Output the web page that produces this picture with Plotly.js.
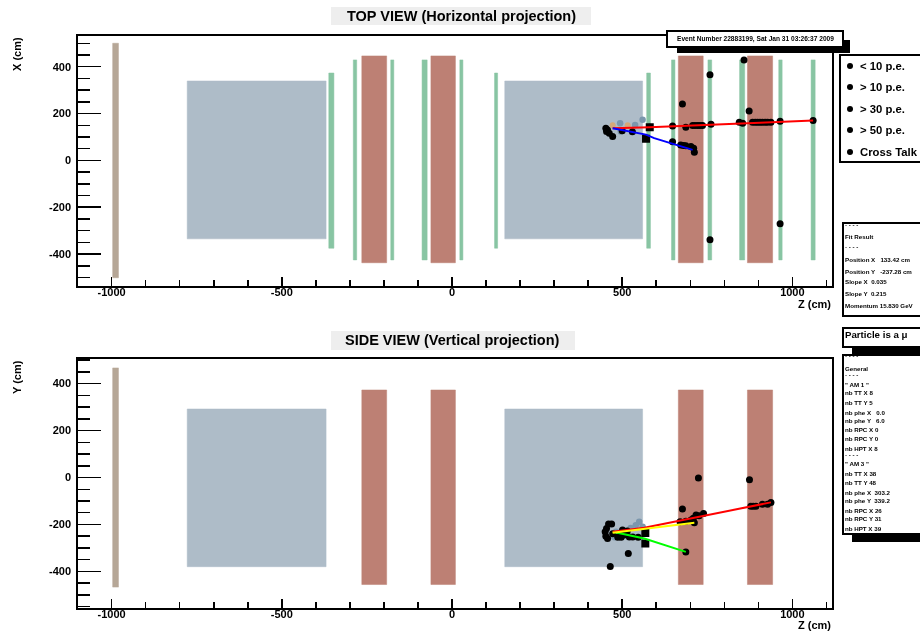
<!DOCTYPE html>
<html><head><meta charset="utf-8">
<script src="https://cdn.plot.ly/plotly-3.0.1.min.js"></script>
<style>html,body{margin:0;padding:0;background:#fff}#c{width:920px;height:631px;filter:blur(0.4px)}</style></head>
<body><div id="c"></div>
<script>
// Detector elements: [z min, z max, transverse min, transverse max] in cm
const veto = [[-997,-980]];
const vetoTopX = [-501,500], vetoSideY = [-467,467];
const magnetsZ = [[-778,-370],[155,560]];
const magnetTopX = [-335,339], magnetSideY = [-380,292];
const rpcZ = [[-265,-192],[-62,10],[665,738],[868,942]];
const rpcTopX = [-437,446], rpcSideY = [-456,373];
const ttTop = [[-362,-347,-375,373],[-290,-280,-425,429],[-180,-171,-425,429],[-88,-73,-425,429],[23,32,-425,429],
  [125,134,-375,373],[572,583,-375,373],[645,655,-425,429],[752,763,-425,429],[845,860,-425,429],[960,970,-425,429],[1055,1067,-425,429]];

// Top view hits
const topZ = [858,758,677,873,964,758,581,648,687,707,714,722,729,736,761,844,854,883,891,898,905,912,920,927,937,964,1061,
  648,672,680,687,702,710,712,452,454,462,472,457,500,530];
const topX = [429,366,241,211,-270,-339,141,147,141,149,149,149,149,149,154,163,159,163,163,163,163,163,163,163,163,167,170,
  80,66,64,62,59,52,35,137,123,116,102,130,127,122];
const topFaintZ = [494,496,538,560];
const topFaintX = [159,123,151,173];
const topOrangeZ = [472,516];
const topOrangeX = [150,150];
const topSqZ = [570,581], topSqX = [92,141];
const topRedZ = [472,581,1061], topRedX = [137,141,170];
const topBlueZ = [472,570,594,707], topBlueX = [137,110,95,45];

// Side view hits
const sideZ = [724,874,677,687,518,465,670,687,702,709,717,726,739,712,878,885,893,912,927,937,
  454,450,452,460,469,457,487,497,506,521,531,547,501,472,515];
const sideY = [-2,-9,-134,-317,-324,-379,-189,-186,-181,-174,-160,-163,-153,-193,-122,-122,-122,-114,-114,-106,
  -217,-231,-250,-198,-198,-260,-255,-255,-245,-253,-253,-255,-224,-240,-228];
const sideFaintZ = [550,540,560,482,477,525];
const sideFaintY = [-189,-203,-210,-231,-255,-215];
const sideSqZ = [568,568], sideSqY = [-236,-281];
const sideRedZ = [472,565,937], sideRedY = [-231,-214,-106];
const sideYellowZ = [472,712], sideYellowY = [-235,-193];
const sideGreenZ = [472,565,687], sideGreenY = [-231,-260,-317];

// Text content
const legendLabels = ['< 10 p.e.','> 10 p.e.','> 30 p.e.','> 50 p.e.','Cross Talk'];
const eventText = 'Event Number 22883199, Sat Jan 31 03:26:37 2009';
const fitLines = ['- - - -','Fit Result','- - - -','Position X   133.42 cm','Position Y   -237.28 cm','Slope X  0.035','Slope Y  0.215','Momentum 15.830 GeV'];
const particleText = 'Particle is a \u03bc';
const generalLines = ['- - - -','General','- - - -','" AM 1 "','nb TT X 8','nb TT Y 5','nb phe X   0.0','nb phe Y   6.0','nb RPC X 0','nb RPC Y 0','nb HPT X 8','- - - -','" AM 3 "','nb TT X 38','nb TT Y 48','nb phe X  303.2','nb phe Y  339.2','nb RPC X 26','nb RPC Y 31','nb HPT X 39'];
const yTicks = [-400,-200,0,200,400];
const yTickText = ['-400','-200','0','200','400'];
const xTicks = [-1000,-500,0,500,1000];
const xTickText = ['-1000','-500','0','500','1000'];

// Pixel helpers for the page furniture
const W=920,H=631, FONT='"Liberation Sans", Arial, sans-serif';
const px=x=>x/W, py=y=>1-y/H;
function boxes(list,t0,t1){const xs=[],ys=[];
  list.forEach(r=>{const a=r.length>2?r[2]:t0,b=r.length>2?r[3]:t1;
    xs.push(r[0],r[1],r[1],r[0],r[0],null);ys.push(a,a,b,b,a,null);});return [xs,ys];}
function fillTrace(list,t0,t1,color,ax){const [x,y]=boxes(list,t0,t1);
  return {x,y,mode:'lines',fill:'toself',fillcolor:color,line:{color:color,width:0.5},hoverinfo:'skip',showlegend:false,xaxis:ax[0],yaxis:ax[1]};}
function pts(x,y,color,size,symbol,ax){return {x,y,mode:'markers',marker:{color,size,symbol:symbol||'circle'},showlegend:false,xaxis:ax[0],yaxis:ax[1]};}
function line(x,y,color,ax){return {x,y,mode:'lines',line:{color,width:2},showlegend:false,xaxis:ax[0],yaxis:ax[1]};}

const A1=['x','y'],A2=['x2','y2'];
const BLUE='#aebcc8',RED='#bd8074',GREEN='#88c5a3',TAN='#b6a797';
const data=[
 fillTrace(veto,vetoTopX[0],vetoTopX[1],TAN,A1),
 fillTrace(magnetsZ,magnetTopX[0],magnetTopX[1],BLUE,A1),
 fillTrace(rpcZ,rpcTopX[0],rpcTopX[1],RED,A1),
 fillTrace(ttTop,0,0,GREEN,A1),
 pts(topFaintZ,topFaintX,'#7c97ad',6.5,'circle',A1),
 pts(topOrangeZ,topOrangeX,'#d6a878',6,'circle',A1),
 pts(topZ,topX,'#000',7,'circle',A1),
 pts(topSqZ,topSqX,'#000',8,'square',A1),
 line(topRedZ,topRedX,'#ff0000',A1),
 line(topBlueZ,topBlueX,'#0000ff',A1),
 fillTrace(veto,vetoSideY[0],vetoSideY[1],TAN,A2),
 fillTrace(magnetsZ,magnetSideY[0],magnetSideY[1],BLUE,A2),
 fillTrace(rpcZ,rpcSideY[0],rpcSideY[1],RED,A2),
 pts(sideFaintZ,sideFaintY,'#7c97ad',6.5,'circle',A2),
 pts(sideZ,sideY,'#000',7,'circle',A2),
 pts(sideSqZ,sideSqY,'#000',8,'square',A2),
 line(sideGreenZ,sideGreenY,'#00ff00',A2),
 line(sideRedZ,sideRedY,'#ff0000',A2),
 line(sideYellowZ,sideYellowY,'#ffff00',A2)
];

function xax(anchor,dom){return {domain:dom,anchor,range:[-1098,1115],tickmode:'array',tickvals:xTicks,ticktext:xTickText,ticks:'inside',ticklen:9,tickwidth:1.5,tickcolor:'#000',
  minor:{dtick:100,ticks:'inside',ticklen:6,tickwidth:1.5,tickcolor:'#000',showgrid:false},showgrid:false,zeroline:false,showline:true,mirror:true,linecolor:'#000',linewidth:2,
  tickfont:{family:FONT,size:11,color:'#000',weight:'bold'},ticklabelstandoff:-5};}
function yax(anchor,dom,r){return {domain:dom,anchor,range:r,tickmode:'array',tickvals:yTicks,ticktext:yTickText,ticks:'inside',ticklen:23,tickwidth:1.5,tickcolor:'#000',
  minor:{dtick:50,ticks:'inside',ticklen:12,tickwidth:1.5,tickcolor:'#000',showgrid:false},showgrid:false,zeroline:false,showline:true,mirror:true,linecolor:'#000',linewidth:2,
  tickfont:{family:FONT,size:11,color:'#000',weight:'bold'},ticklabelstandoff:3};}

const shapes=[],ann=[];
function rect(x0,y0,x1,y1,fill,lw){shapes.push({type:'rect',xref:'paper',yref:'paper',x0:px(x0),x1:px(x1),y0:py(y1),y1:py(y0),fillcolor:fill,line:{color:'#000',width:lw===undefined?2:lw},layer:'above'});}
function txt(x,y,s,size,bold,anchor,extra){ann.push(Object.assign({xref:'paper',yref:'paper',x:px(x),y:py(y),text:s,showarrow:false,xanchor:anchor||'left',yanchor:'middle',borderpad:0,borderwidth:0,
  font:{family:FONT,size,color:'#000',weight:bold?'bold':'normal'}},extra||{}));}

// Titles
shapes.push({type:'rect',xref:'paper',yref:'paper',x0:px(331),x1:px(591),y0:py(25),y1:py(7),fillcolor:'#eeeeee',line:{width:0},layer:'below'});
shapes.push({type:'rect',xref:'paper',yref:'paper',x0:px(331),x1:px(575),y0:py(350),y1:py(331),fillcolor:'#eeeeee',line:{width:0},layer:'below'});
txt(461,16,'TOP VIEW (Horizontal projection)',14.5,true,'center');
txt(452,340,'SIDE VIEW (Vertical projection)',14.5,true,'center');
txt(831,304,'Z (cm)',11,true,'right');
txt(831,625,'Z (cm)',11,true,'right');
txt(17,54,'X (cm)',11,true,'center',{textangle:-90});
txt(17,377,'Y (cm)',11,true,'center',{textangle:-90});

// Event box
rect(677,40,850,53,'#000',0);
rect(667,31,843,47,'#fff',2);
txt(755,39,eventText,6.6,true,'center');

// Legend box
rect(840,55,925,162,'#fff',2);
const legendY=[66,87,109,130,152];
legendLabels.forEach((s,i)=>{
  shapes.push({type:'circle',xref:'paper',yref:'paper',x0:px(847),x1:px(853),y0:py(legendY[i]+3),y1:py(legendY[i]-3),fillcolor:'#000',line:{width:0},layer:'above'});
  txt(860,legendY[i],s,11.3,true);
});

// Fit box
rect(843,223,925,316,'#fff',2);
const fitY=[224,236,246,259,271,282,293,305];
fitLines.forEach((s,i)=>txt(845,fitY[i],s,6.2,true));

// Particle box
rect(852,347,925,358,'#000',0);
rect(843,328,925,347,'#fff',2);
txt(845,334,particleText,9.7,true);

// General box
rect(852,534,925,542,'#000',0);
rect(843,355,925,534,'#fff',2);
const genY=[356,368,374,384,393,402,412,420,429,438,448,454,463,473,482,492,500,510,518,528];
generalLines.forEach((s,i)=>txt(845,genY[i],s,6.2,true));

const layout={width:W,height:H,margin:{l:0,r:0,t:0,b:0},autosize:false,paper_bgcolor:'#fff',plot_bgcolor:'#fff',showlegend:false,
 xaxis:xax('y',[78.3/W,831.5/W]),yaxis:yax('x',[1-285.7/H,1-36/H],[-535,531]),
 xaxis2:xax('y2',[78.3/W,831.5/W]),yaxis2:yax('x2',[1-608/H,1-359/H],[-556,505]),
 shapes,annotations:ann};
Plotly.newPlot('c',data,layout,{displayModeBar:false,staticPlot:true});
</script></body></html>
